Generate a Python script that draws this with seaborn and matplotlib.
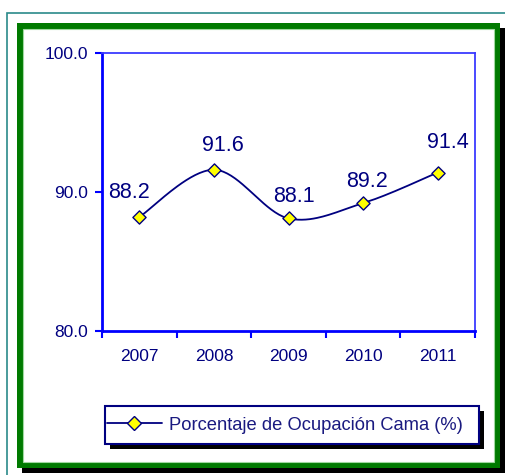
import numpy as np
import pandas as pd
import matplotlib
matplotlib.use("Agg")
import matplotlib.pyplot as plt
import seaborn as sns
from matplotlib.lines import Line2D
from matplotlib.patches import Rectangle

years = ["2007", "2008", "2009", "2010", "2011"]
ocupacion = [88.2, 91.6, 88.1, 89.2, 91.4]
y_ticks = [80.0, 90.0, 100.0]
serie = "Porcentaje de Ocupación Cama (%)"

NAVY = "#000080"
BLUE = "#0000ff"

sns.set_theme(style="white")
plt.rcParams["font.family"] = ["Liberation Sans", "DejaVu Sans"]

fig = plt.figure(figsize=(5.05, 4.75), dpi=100)
fig.patch.set_facecolor("white")

# outer frames: thin teal border, green frame with black drop shadow
W, H = 505.0, 475.0
def frect(x0, y0, x1, y1, z=-10, **kw):
    fig.patches.append(Rectangle((x0 / W, 1 - y1 / H), (x1 - x0) / W, (y1 - y0) / H,
                                 transform=fig.transFigure, zorder=z, **kw))

frect(7, 13, 520, 490, fill=False, edgecolor="#2a8a8a", linewidth=1.2)
frect(22, 28, 505, 473, facecolor="black", edgecolor="none")
frect(17, 23, 500, 468, facecolor="#007a00", edgecolor="none")
frect(23, 29, 494, 462, facecolor="white", edgecolor="#9fd89f", linewidth=0.8)

ax = fig.add_axes([102 / W, 1 - 331 / H, (475 - 102) / W, (331 - 53) / H])
ax.set_facecolor("white")

# smoothed connecting curve (Bezier segments through the data points)
xs = np.arange(len(years), dtype=float)
ys = np.array(ocupacion)
sx, sy = 74.6, 13.9
pts = np.column_stack([xs * sx, ys * sy])
ext = np.vstack([pts[0], pts, pts[-1]])
cx, cy = [], []
for i in range(1, len(ext) - 2):
    p0, p1, p2, p3 = ext[i - 1], ext[i], ext[i + 1], ext[i + 2]
    c1 = p1 + (p2 - p0) / 6.0
    c2 = p2 - (p3 - p1) / 6.0
    t = np.linspace(0, 1, 40)[:, None]
    b = ((1 - t) ** 3) * p1 + 3 * ((1 - t) ** 2) * t * c1 + 3 * (1 - t) * t ** 2 * c2 + t ** 3 * p2
    cx.extend(b[:, 0] / sx)
    cy.extend(b[:, 1] / sy)
curve = pd.DataFrame({"x": cx, "y": cy})
sns.lineplot(data=curve, x="x", y="y", sort=False, color=NAVY, linewidth=1.3,
             ax=ax, legend=False)

pts_df = pd.DataFrame({"x": xs, "y": ys})
sns.scatterplot(data=pts_df, x="x", y="y", marker="D", s=45, color="#ffff00",
                edgecolor=NAVY, linewidth=1.0, ax=ax, zorder=5, legend=False)

# value labels, offset in pixels from their points
offsets = [(-10, 25), (9, 24), (5, 22), (4, 22), (10, 30)]
for x, v, (dx, dy) in zip(xs, ocupacion, offsets):
    ax.annotate(f"{v:.1f}", (x, v), xytext=(dx * 0.72, dy * 0.72),
                textcoords="offset points", ha="center", va="center",
                fontsize=15.5, color=NAVY)

ax.set_xlim(-0.5, len(years) - 0.5)
ax.set_ylim(80, 100)
ax.set_yticks(y_ticks)
ax.set_yticklabels([f"{t:.1f}" for t in y_ticks])
ax.set_xticks(xs)
ax.set_xticklabels(years)
ax.set_xticks(np.arange(-0.5, len(years), 1.0), minor=True)
ax.tick_params(axis="x", which="major", length=0, pad=13, labelsize=12.5, labelcolor=NAVY)
ax.tick_params(axis="x", which="minor", length=5, width=1.5, color=BLUE, direction="out", bottom=True)
ax.tick_params(axis="y", length=5, width=1.5, color=BLUE, direction="out", left=True,
               labelsize=12.5, labelcolor=NAVY, pad=5)
ax.set_xlabel("")
ax.set_ylabel("")
for side in ["left", "bottom"]:
    ax.spines[side].set_color(BLUE)
    ax.spines[side].set_linewidth(2.0)
for side in ["top", "right"]:
    ax.spines[side].set_color("#3a3aff")
    ax.spines[side].set_linewidth(1.3)
ax.grid(False)

# legend box with drop shadow
frect(110, 411, 484, 449, z=2, facecolor="black", edgecolor="none")
frect(105, 406, 479, 444, z=3, facecolor="white", edgecolor=NAVY, linewidth=1.5)
handle = Line2D([0], [0], color=NAVY, linewidth=1.3, marker="D", markersize=7,
                markerfacecolor="#ffff00", markeredgecolor=NAVY)
leg = fig.legend([handle], [serie], loc="center", bbox_to_anchor=(285 / W, 1 - 425 / H),
                 frameon=False, fontsize=13.2, labelcolor="#1a1a80", handlelength=3.0,
                 handletextpad=0.4)
leg.set_zorder(5)

fig.savefig("out.png", dpi=100)
